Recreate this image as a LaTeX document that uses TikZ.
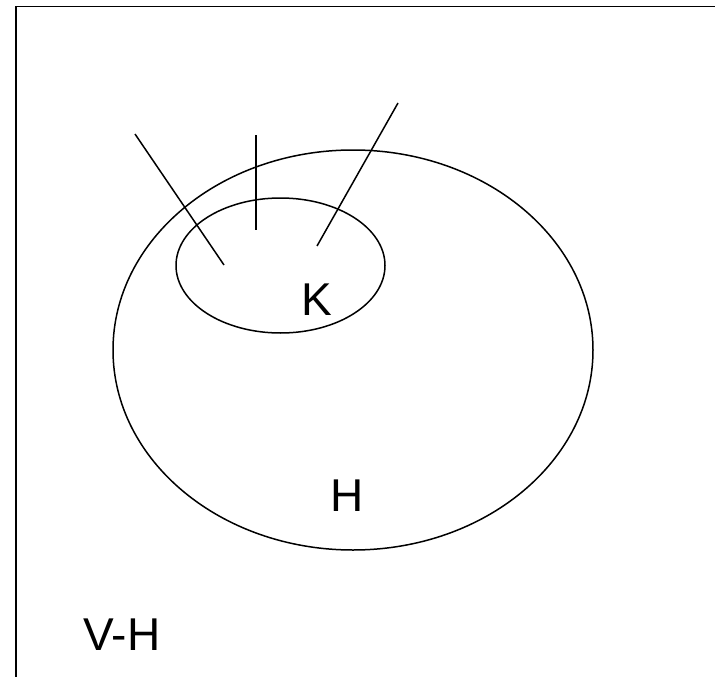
\documentclass[tikz,border=0pt]{standalone}
\usepackage{fontspec}
\setmainfont{Liberation Sans}
\begin{document}
\begin{tikzpicture}[x=1pt,y=-1pt,line width=1.5pt,
  lbl/.style={inner sep=0pt,font=\fontsize{46}{50}\selectfont}]
\useasboundingbox (0,0) rectangle (715,677);
\draw (16,677) -- (16,6.5) -- (715,6.5);
\draw (353,350) ellipse [x radius=240, y radius=200];
\draw (280.5,265.5) ellipse [x radius=104.5, y radius=67.5];
\coordinate (a1) at (135,134); \coordinate (a2) at (224,265);
\coordinate (b1) at (256,135); \coordinate (b2) at (256,230);
\coordinate (c1) at (398,103); \coordinate (c2) at (317,246);
\draw (a1) -- (a2);
\draw (b1) -- (b2);
\draw (c1) -- (c2);
\node[lbl] (K) at (317,300) {K};
\node[lbl] (H) at (347,496) {H};
\node[lbl] (VH) at (122,635) {V-H};
\end{tikzpicture}
\end{document}
